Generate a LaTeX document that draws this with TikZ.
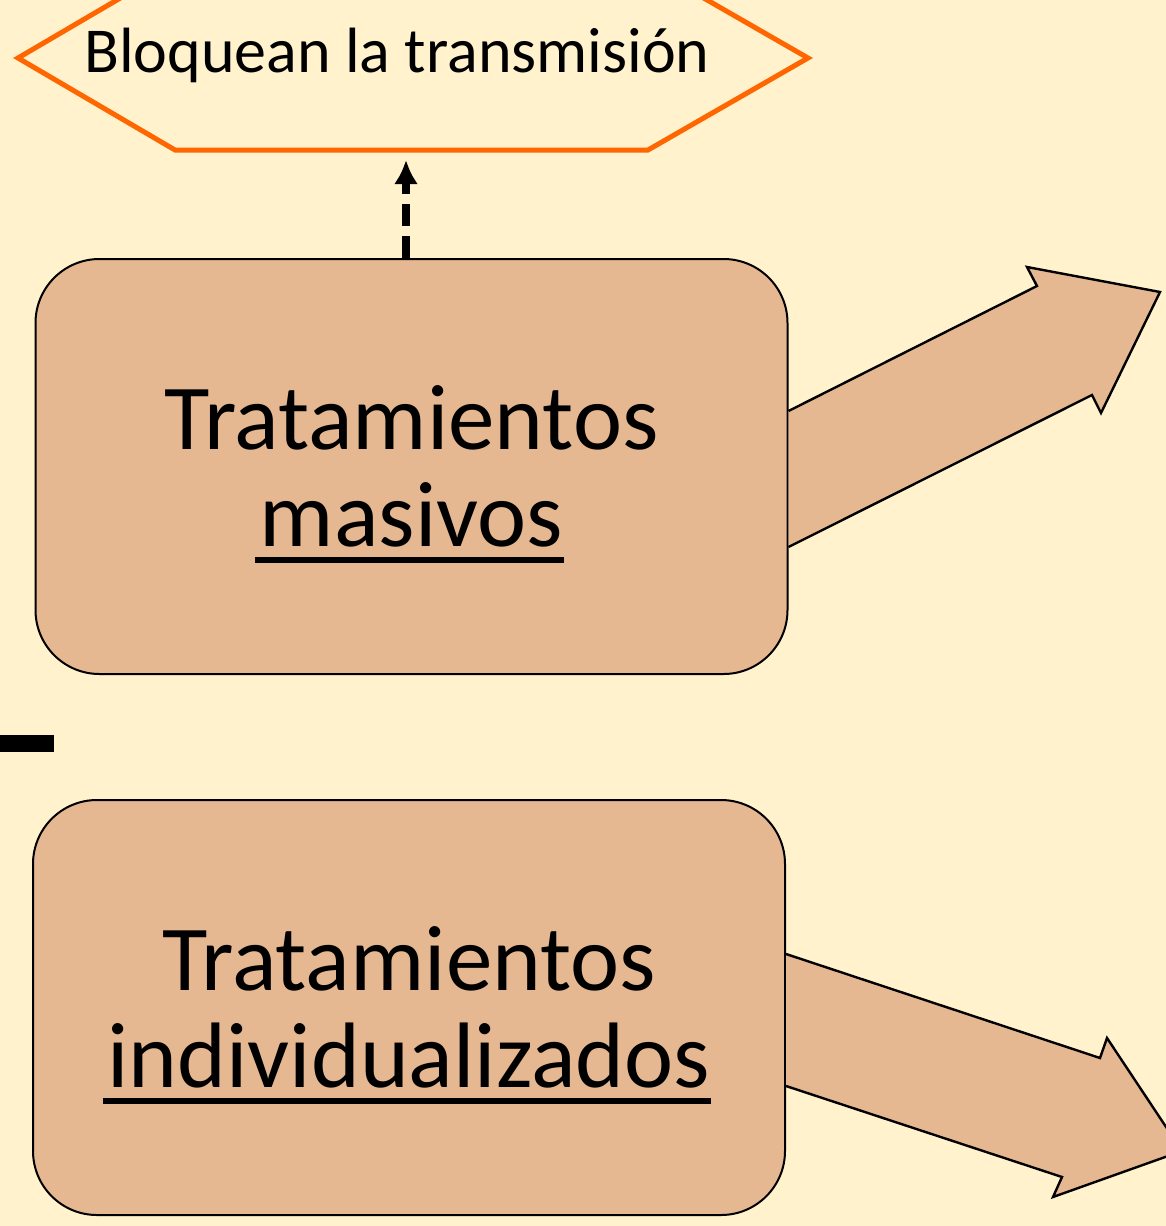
\documentclass[tikz,border=0pt]{standalone}
\usepackage{fontspec}
\setmainfont{Carlito}
\usetikzlibrary{arrows.meta}
\definecolor{paper}{HTML}{FFF2CC}
\definecolor{tan}{HTML}{E6B892}
\definecolor{hexorange}{HTML}{FF6600}
\newcommand{\uword}[1]{\setbox0\hbox{#1}\rlap{\kern-2.5pt\smash{\rule[-8pt]{\dimexpr\wd0+3pt\relax}{3pt}}}\box0}

\begin{document}
\begin{tikzpicture}[x=0.5pt,y=-0.5pt]

\tikzset{box/.style = {shape=rectangle, draw, line width=1pt, rounded corners=32pt, fill=tan, minimum width=376pt, minimum height=207.5pt, align=center, font=\fontsize{46.5}{48.5}\selectfont}}
\tikzset{bigarrow/.style = {draw, fill=tan, line width=1.2pt, line join=miter}}
\tikzset{dasharrow/.style = {-{Latex[length=12pt,width=12pt]}, line width=4pt, dash pattern=on 11pt off 5pt}}
%background
\useasboundingbox (0,0) rectangle (1166,1226);
\fill[paper] (0,0) rectangle (1166,1226);
\clip (0,0) rectangle (1166,1226);
%hexagon
\draw[hexorange, line width=2.5pt, line join=miter] (18,58) -- (175,-34) -- (648,-34) -- (808,58) -- (648,150) -- (175,150) -- cycle;
\node[font=\fontsize{32}{38}\selectfont] (block) at (397,55) {Bloquean la transmisión};
\coordinate (hexbot) at (406,160);
%boxes
\node[box] (mas) at (411.5,466.5) {Tratamientos\\\uword{masivos}};
\node[box] (ind) at (409,1007.5) {Tratamientos\\\uword{individualizados}};
\fill (0,735) rectangle (54,752);
%arrows
\draw[dasharrow] (mas.north -| hexbot) -- (hexbot);
\filldraw[bigarrow] (mas.east |- 0,411) -- (1037,286) -- (1027,267) -- (1160,292) -- (1101,413) -- (1092,395) -- (mas.east |- 0,547);
\filldraw[bigarrow] (ind.east |- 0,954) -- (1100,1058) -- (1107,1038) -- (1182,1151) -- (1053,1197) -- (1062,1177) -- (ind.east |- 0,1086);

\end{tikzpicture}
\end{document}
